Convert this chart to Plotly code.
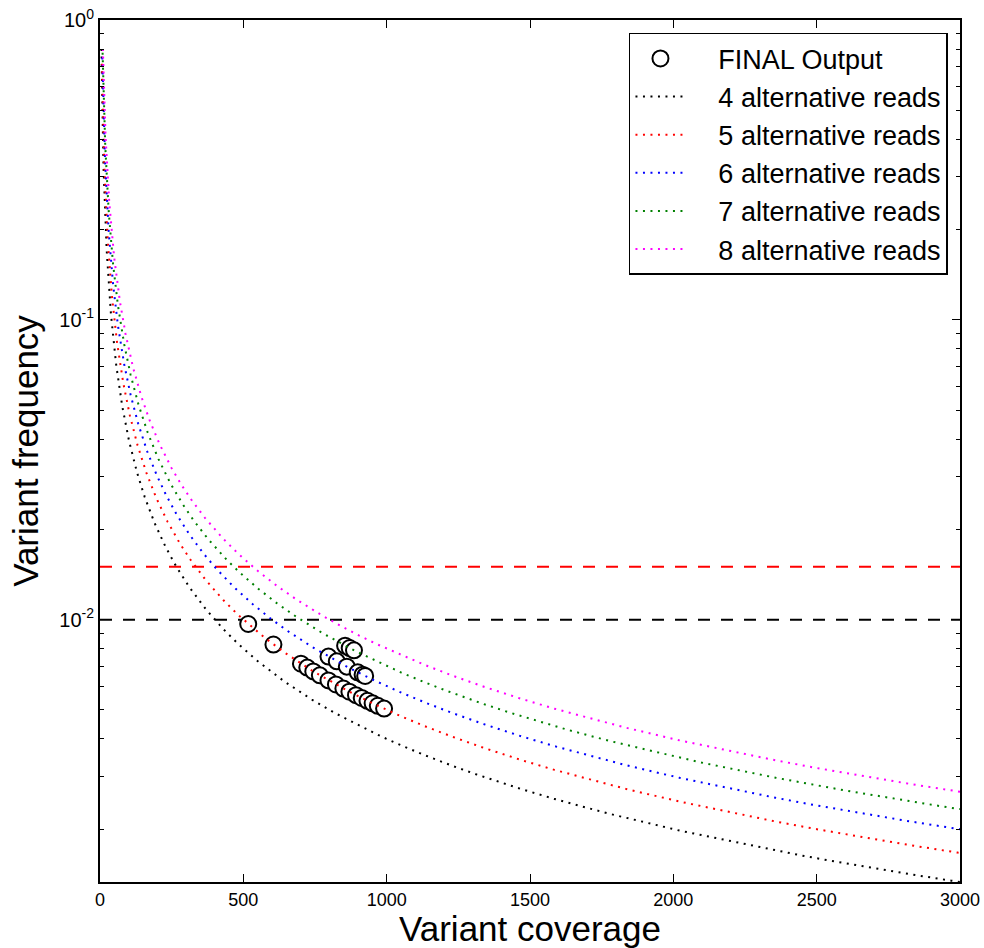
import numpy as np
import plotly.graph_objects as go

# ---- data ----
alt_reads = [4, 5, 6, 7, 8]
curve_colors = ["black", "red", "blue", "green", "magenta"]
coverage_grid = np.arange(5, 3001)
curve_top = 0.8

final_cov = [517, 605, 701, 723, 744, 767, 797, 823, 849, 870, 893, 913, 933, 951, 969, 991,
             797, 826, 861, 899, 916, 925,
             855, 871, 886]
final_freq = [0.00967, 0.00826, 0.00713, 0.00692, 0.00672, 0.00652, 0.00627, 0.00608, 0.00589,
              0.00575, 0.00560, 0.00548, 0.00536, 0.00526, 0.00516, 0.00505,
              0.00753, 0.00726, 0.00697, 0.00667, 0.00655, 0.00649,
              0.00819, 0.00804, 0.00790]

thresholds = [0.015, 0.01]
threshold_colors = ["red", "black"]

x_range = [0, 3000]
y_min = 4 / 3000
y_max = 1.0
x_ticks = [0, 500, 1000, 1500, 2000, 2500, 3000]
y_ticks = [1e-2, 1e-1, 1e0]
y_ticktext = ["10<sup>-2</sup>", "10<sup>-1</sup>", "10<sup>0</sup>"]
y_minor = [m * 10.0 ** e for e in (-3, -2, -1) for m in range(2, 10)]

FONT = "Liberation Sans, Arial, sans-serif"
PAD = "\u00a0\u00a0\u00a0\u2009"

fig = go.Figure()

for thr, col in zip(thresholds, threshold_colors):
    fig.add_trace(go.Scatter(x=x_range, y=[thr, thr], mode="lines",
                             line=dict(color=col, width=2, dash="12px,11px"),
                             showlegend=False, hoverinfo="skip"))

fig.add_trace(go.Scatter(x=final_cov, y=final_freq, mode="markers", name=PAD + "FINAL Output",
                         marker=dict(symbol="circle", size=16, color="white",
                                     line=dict(color="black", width=2)),
                         legendrank=1))

for i, (k, col) in enumerate(zip(alt_reads, curve_colors)):
    freq = k / coverage_grid
    keep = freq <= curve_top
    fig.add_trace(go.Scatter(x=coverage_grid[keep], y=freq[keep], mode="lines",
                             name=PAD + f"{k} alternative reads",
                             line=dict(color=col, width=2, dash="2px,5.5px"),
                             legendrank=2 + i))

axis_common = dict(showline=True, linecolor="black", linewidth=2, mirror="ticks",
                   ticks="inside", ticklen=8, tickwidth=1, tickcolor="black",
                   showgrid=False, zeroline=False, automargin=False,
                   tickfont=dict(family=FONT, size=18, color="black"))

fig.update_xaxes(range=x_range, tickvals=x_ticks,
                 title=dict(text="Variant coverage", font=dict(family=FONT, size=35, color="black"),
                            standoff=10),
                 **axis_common)
fig.update_yaxes(type="log", range=[np.log10(y_min), np.log10(y_max)],
                 tickvals=y_ticks, ticktext=y_ticktext,
                 minor=dict(tickvals=y_minor, ticks="inside", ticklen=4, tickcolor="black", tickwidth=1),
                 title=dict(text="Variant frequency", font=dict(family=FONT, size=35, color="black"),
                            standoff=10),
                 **axis_common)
fig.update_yaxes(tickfont=dict(family=FONT, size=20, color="black"))

fig.update_layout(
    width=984, height=948,
    margin=dict(l=100, r=24, t=20, b=66),
    paper_bgcolor="white", plot_bgcolor="white",
    font=dict(family=FONT, color="black"),
    legend=dict(x=0.986, y=0.985, xanchor="right", yanchor="top",
                bgcolor="white", bordercolor="black", borderwidth=1.5,
                font=dict(family=FONT, size=27, color="black"),
                itemwidth=50, tracegroupgap=0),
    showlegend=True,
)

fig.write_html("out.html")
